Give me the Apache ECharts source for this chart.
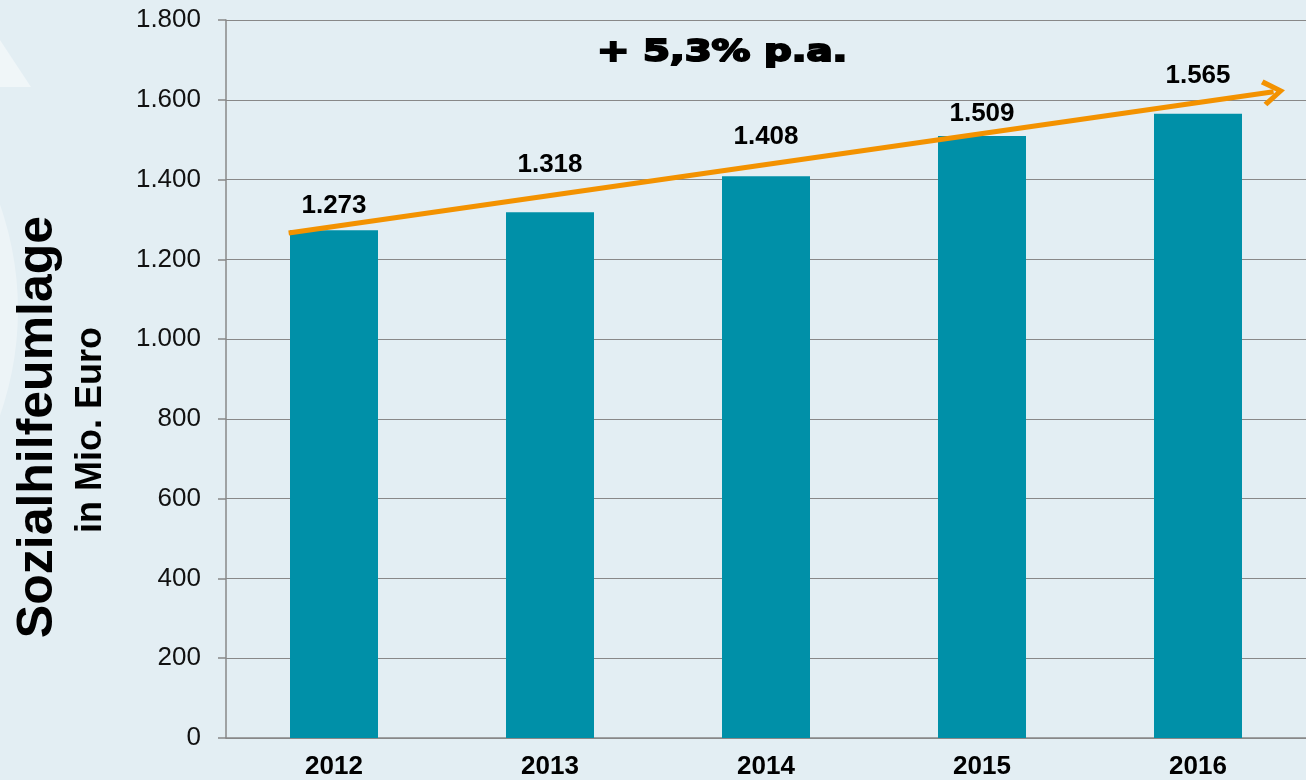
<!DOCTYPE html>
<html>
<head>
<meta charset="utf-8">
<script src="https://cdn.jsdelivr.net/npm/echarts@6/dist/echarts.min.js"></script>
<style>
	html, body { margin: 0; padding: 0; background: #e3eef3; }
	#main { width: 1306px; height: 780px; }
</style>
</head>
<body>
<div id="main"></div>
<script>
	// Jahre und Werte (Mio. Euro)
	var years = ['2012', '2013', '2014', '2015', '2016'];
	var values = [1273, 1318, 1408, 1509, 1565];
	// Trendpfeil: [Position auf der Jahresachse, Wert]
	var trendStart = [-0.21, 1266];
	var trendEnd = [4.35, 1620];
	var trendText = '+ 5,3% p.a.';

	// Abstand der Wertbeschriftung über dem Balken (damit der Pfeil frei bleibt)
	var labelGap = [11, 34, 27, 9, 25];

	function fmt(v) {
		return String(v).replace(/\B(?=(\d{3})+(?!\d))/g, '.');
	}

	var font = '"Liberation Sans", Arial, sans-serif';
	var chart = echarts.init(document.getElementById('main'));
	chart.setOption({
		backgroundColor: '#e3eef3',
		animation: false,
		textStyle: { fontFamily: font },
		graphic: [
			{ type: 'circle', shape: { cx: -300, cy: 310, r: 318 }, style: { fill: 'rgba(255,255,255,0.35)' }, z: -1 },
			{ type: 'polygon', shape: { points: [[0, 40], [31, 87], [0, 87]] }, style: { fill: 'rgba(255,255,255,0.45)' }, z: -1 },
			{ type: 'text', x: 597, y: 53, scaleX: 1.25, style: { text: trendText, font: 'bold 31px "DejaVu Sans", sans-serif', fill: '#000', stroke: '#000', lineWidth: 2, verticalAlign: 'middle' } },
			{ type: 'text', x: 38, y: 427, rotation: Math.PI / 2, style: { text: 'Sozialhilfeumlage', font: 'bold 50px "Liberation Sans", Arial, sans-serif', fill: '#000', align: 'center', verticalAlign: 'middle' } },
			{ type: 'text', x: 91, y: 430, rotation: Math.PI / 2, style: { text: 'in Mio. Euro', font: 'bold 36px "Liberation Sans", Arial, sans-serif', fill: '#000', align: 'center', verticalAlign: 'middle' } }
		],
		grid: { left: 226, right: -13, top: 20, bottom: 42 },
		xAxis: [{
			type: 'category',
			data: years,
			axisLine: { lineStyle: { color: '#888', width: 1.5 } },
			axisTick: { length: 7, lineStyle: { color: '#888', width: 1.5 } },
			axisLabel: { margin: 16, fontSize: 26, fontWeight: 'bold', color: '#000' }
		}, {
			type: 'value', min: -0.5, max: 4.5, show: false
		}],
		yAxis: {
			type: 'value', min: 0, max: 1800, interval: 200,
			axisLine: { show: true, onZero: false, lineStyle: { color: '#888', width: 1.5 } },
			axisTick: { show: true, length: 8, lineStyle: { color: '#888', width: 1.5 } },
			splitLine: { lineStyle: { color: '#888', width: 1.2 } },
			axisLabel: { margin: 25, fontSize: 26, color: '#111', formatter: fmt }
		},
		series: [{
			type: 'bar',
			data: values.map(function (v, i) {
				return { value: v, label: { distance: labelGap[i] } };
			}),
			barWidth: 88,
			itemStyle: { color: '#0090a8' },
			label: { show: true, position: 'top', fontSize: 26, fontWeight: 'bold', color: '#000', formatter: function (p) { return fmt(p.value); } }
		}, {
			type: 'line',
			xAxisIndex: 1,
			data: [],
			markLine: {
				silent: true,
				symbol: ['none', 'path://M13,0 L26,18 L22,21 L13,8 L4,21 L0,18 Z'],
				symbolSize: [27, 23],
				lineStyle: { color: '#f39200', width: 5, type: 'solid' },
				label: { show: false },
				data: [[{ coord: trendStart }, { coord: trendEnd }]]
			}
		}]
	});
</script>
</body>
</html>
